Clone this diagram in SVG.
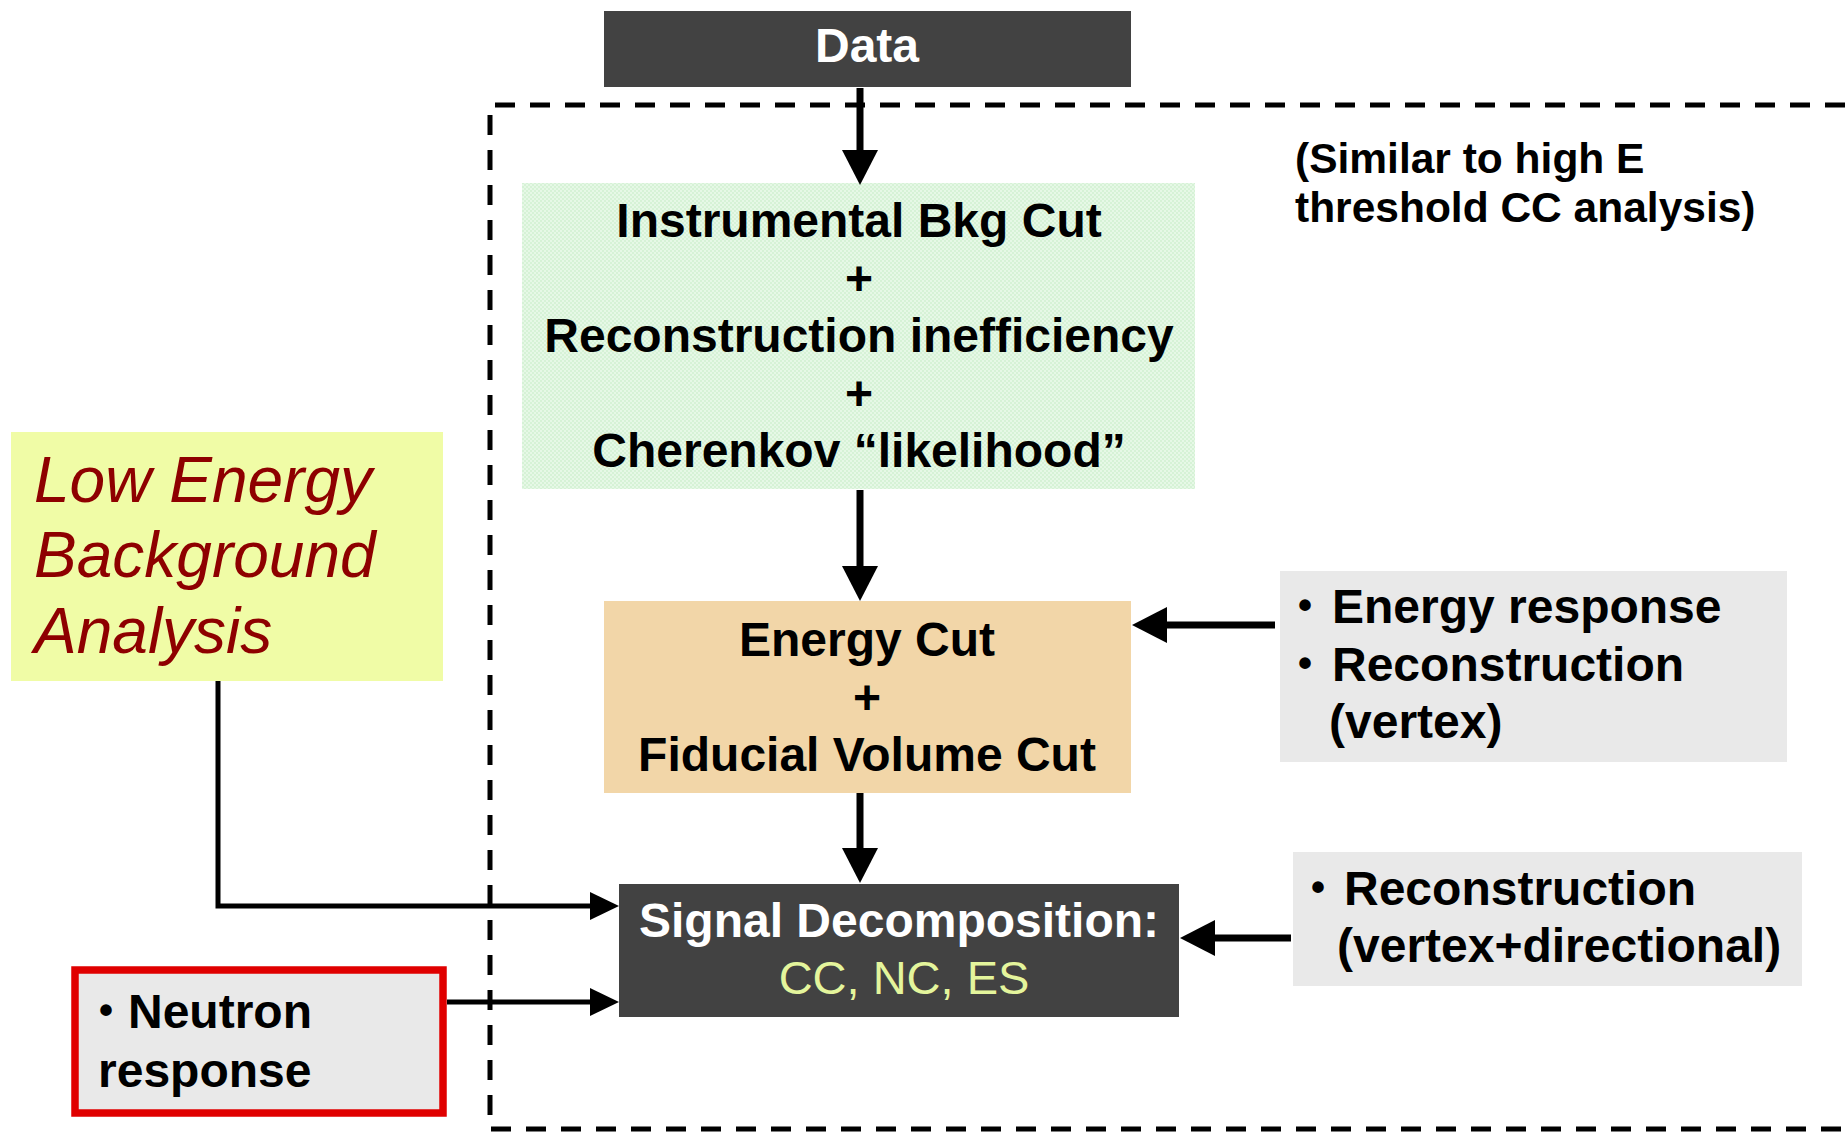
<svg xmlns="http://www.w3.org/2000/svg" width="1845" height="1135" viewBox="0 0 1845 1135">
<defs>
<style>
text{font-family:"Liberation Sans",Arial,Helvetica,sans-serif;}
.b{font-weight:bold;font-size:48px;fill:#000;}
.c{text-anchor:middle;}
.w{fill:#fff;}
.it{font-style:italic;font-size:64px;fill:#8e0000;}
.note{font-weight:bold;font-size:42.5px;fill:#000;}
.thick{stroke:#000;stroke-width:7;fill:none;marker-end:url(#ah)}
.thin{stroke:#000;stroke-width:5;fill:none;marker-end:url(#ahs)}
.dash{stroke:#000;stroke-width:5;fill:none;stroke-dasharray:20 15;}
.bul{font-size:40px;}
</style>
<marker id="ah" markerUnits="userSpaceOnUse" markerWidth="36" markerHeight="36" refX="0" refY="18" orient="auto" overflow="visible">
<path d="M0,0 L35,18 L0,36 z" fill="#000"/>
</marker>
<marker id="ahs" markerUnits="userSpaceOnUse" markerWidth="30" markerHeight="28" refX="0" refY="14" orient="auto" overflow="visible">
<path d="M0,0 L29,14 L0,28 z" fill="#000"/>
</marker>
<pattern id="gp" width="4" height="4" patternUnits="userSpaceOnUse">
<rect width="4" height="4" fill="#e6f8e6"/>
<rect width="2" height="2" fill="#d6f2d6"/>
<rect x="2" y="2" width="2" height="2" fill="#d6f2d6"/>
</pattern>
</defs>
<rect width="1845" height="1135" fill="#fff"/>

<g id="frame">
<path class="dash" d="M1845,105 H490 V1129 H1845"/>
</g>

<g id="data">
<rect x="604" y="11" width="527" height="76" fill="#424242"/>
<text class="b w c" x="867" y="62" font-size="46">Data</text>
</g>

<g id="note">
<text class="note" x="1295" y="173">(Similar to high E</text>
<text class="note" x="1295" y="222">threshold CC analysis)</text>
</g>

<g id="bkgcut">
<rect x="522" y="183" width="673" height="306" fill="url(#gp)"/>
<text class="b c" x="859" y="237">Instrumental Bkg Cut</text>
<text class="b c" x="859" y="295">+</text>
<text class="b c" x="859" y="352">Reconstruction inefficiency</text>
<text class="b c" x="859" y="410">+</text>
<text class="b c" x="859" y="467">Cherenkov “likelihood”</text>
</g>

<g id="lowenergy">
<rect x="11" y="432" width="432" height="249" fill="#f0fca6"/>
<text class="it" x="34" y="502">Low Energy</text>
<text class="it" x="34" y="577">Background</text>
<text class="it" x="34" y="653">Analysis</text>
</g>

<g id="energycut">
<rect x="604" y="601" width="527" height="192" fill="#f2d6a8"/>
<text class="b c" x="867" y="656">Energy Cut</text>
<text class="b c" x="867" y="714">+</text>
<text class="b c" x="867" y="771">Fiducial Volume Cut</text>
</g>

<g id="energyresp">
<rect x="1280" y="571" width="507" height="191" fill="#e9e9e9"/>
<text class="b" x="1298" y="623"><tspan class="bul" dy="-4">•</tspan><tspan x="1332" dy="4">Energy response</tspan></text>
<text class="b" x="1298" y="681"><tspan class="bul" dy="-4">•</tspan><tspan x="1332" dy="4">Reconstruction</tspan></text>
<text class="b" x="1329" y="738">(vertex)</text>
</g>

<g id="signal">
<rect x="619" y="884" width="560" height="133" fill="#424242"/>
<text class="b w c" x="899" y="937">Signal Decomposition:</text>
<text class="c" x="904" y="994" font-size="47" fill="#e4f59c">CC, NC, ES</text>
</g>

<g id="recodir">
<rect x="1293" y="852" width="509" height="134" fill="#e9e9e9"/>
<text class="b" x="1311" y="905"><tspan class="bul" dy="-4">•</tspan><tspan x="1344" dy="4">Reconstruction</tspan></text>
<text class="b" x="1337" y="962">(vertex+directional)</text>
</g>

<g id="neutron">
<rect x="75" y="970" width="368" height="143" fill="#e9e9e9" stroke="#e00000" stroke-width="7.5"/>
<text class="b" x="99" y="1028"><tspan class="bul" dy="-4">•</tspan><tspan x="128" dy="4">Neutron</tspan></text>
<text class="b" x="98" y="1087">response</text>
</g>

<g id="connectors">
<path class="thick" d="M860,88 V150"/>
<path class="thick" d="M860,490 V566"/>
<path class="thick" d="M860,793 V848"/>
<path class="thick" d="M1275,625 H1167"/>
<path class="thick" d="M1291,938 H1215"/>
<path class="thin" d="M218,681 V906 H590"/>
<path class="thin" d="M447,1002 H590"/>
</g>
</svg>
